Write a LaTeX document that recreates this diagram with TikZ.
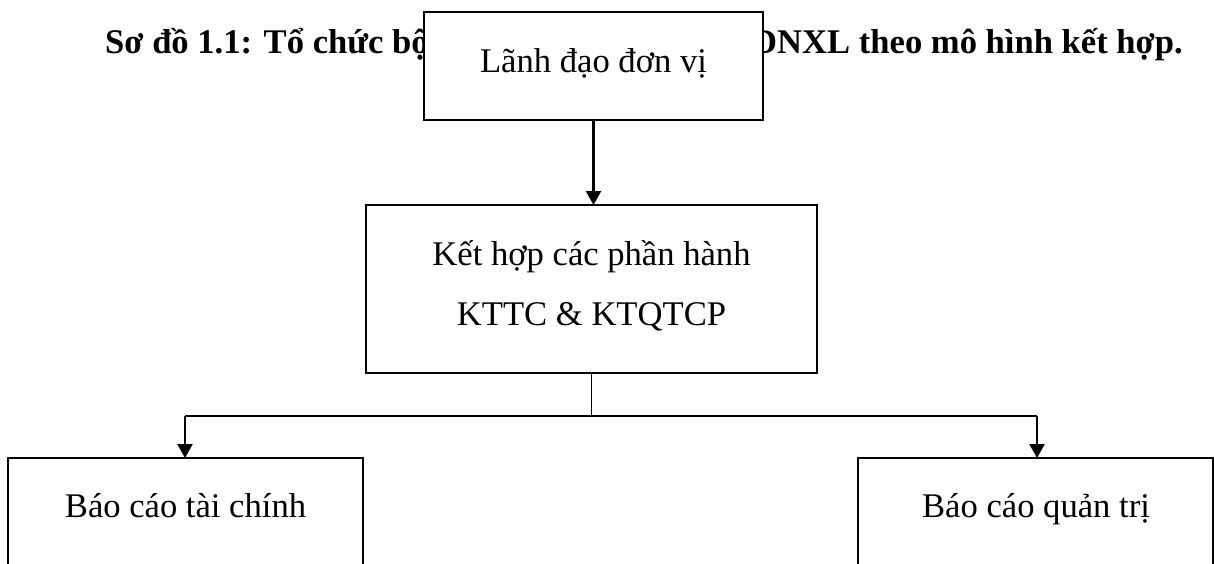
\documentclass[tikz,border=0pt]{standalone}
\usepackage{fontspec}
\setmainfont{Liberation Serif}
\usetikzlibrary{arrows.meta}
\begin{document}
\begin{tikzpicture}[x=1pt,y=-1pt,
  every node/.style={font=\fontsize{34.6}{41}\selectfont},
  box/.style={draw, line width=2.5pt, fill=white, inner sep=0pt, outer sep=0pt},
  txt/.style={inner sep=0pt, anchor=base},
  ttl/.style={inner sep=0pt, font=\fontsize{34.6}{41}\selectfont\bfseries},
  arr/.style={line width=2.3pt, -{Triangle[width=15pt,length=14pt]}},
  thinline/.style={line width=1.1pt},
  hline/.style={line width=1.6pt}]
\useasboundingbox (0,0) rectangle (1214,563);
\fill[white] (0,0) rectangle (1214,563);
\clip (0,0) rectangle (1214,563);
% title (partly hidden by the top box)
\node[ttl, anchor=base west] (titleL) at (105,53) {Sơ đồ 1.1: Tổ chức bộ};
\node[ttl, anchor=base east] (titleR) at (1183,53) {DNXL theo mô hình kết hợp.};
% boxes
\node[box, minimum width=339pt, minimum height=108pt] (lead) at (593.5,66) {};
\node[txt] (leadT) at (593.5,72) {Lãnh đạo đơn vị};
\node[box, minimum width=451pt, minimum height=168pt] (mid) at (591.5,289) {};
\node[txt] (midT1) at (591.5,265) {Kết hợp các phần hành};
\node[txt] (midT2) at (591.5,325) {KTTC \& KTQTCP};
\node[box, minimum width=355pt, minimum height=220pt] (fin) at (185.5,568) {};
\node[txt] (finT) at (185.5,517) {Báo cáo tài chính};
\node[box, minimum width=355pt, minimum height=220pt] (rep) at (1035.5,568) {};
\node[txt] (repT) at (1036,517) {Báo cáo quản trị};
% connectors
\draw[arr] (lead.south) -- (lead.south |- mid.north);
\coordinate (j) at (591.5,416);
\draw[thinline] (mid.south) -- (j);
\coordinate (jl) at (185,416);
\coordinate (jr) at (1037,416);
\draw[hline] (jl) -- (jr);
\draw[arr] (jl) -- (jl |- fin.north);
\draw[arr] (jr) -- (jr |- rep.north);
\end{tikzpicture}
\end{document}
